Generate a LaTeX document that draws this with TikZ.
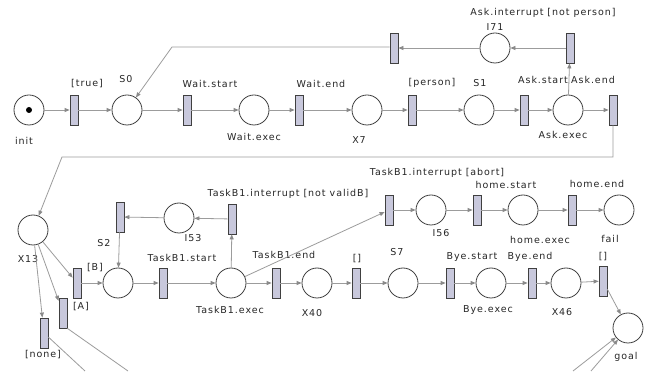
\documentclass[tikz,border=0pt]{standalone}
\usepackage{fontspec}
\newfontfamily\netfont{DejaVu Sans}[LetterSpace=10]
\usetikzlibrary{arrows.meta}
\definecolor{arcgray}{HTML}{9C9C9C}
\definecolor{tipgray}{HTML}{8A8A8A}
\definecolor{rimgray}{HTML}{404040}
\definecolor{transfill}{HTML}{C8C8DC}
\begin{document}
\begin{tikzpicture}[x=1pt,y=-1pt,
  place/.style={circle,draw=rimgray,fill=white,line width=0.8pt,minimum size=30pt,inner sep=0pt},
  trans/.style={rectangle,draw=rimgray,fill=transfill,line width=0.8pt,minimum width=8pt,minimum height=30pt,inner sep=0pt},
  lbl/.style={text=black!85,font=\netfont\fontsize{9.5}{11}\selectfont,inner sep=0pt},
  arc/.style={draw=arcgray,line width=0.8pt,-{Triangle[length=5pt,width=4pt,color=tipgray]}},
  plainarc/.style={draw=arcgray,line width=0.8pt}]
\useasboundingbox (0,0) rectangle (654,379);
\fill[white] (0,0) rectangle (654,379);

% ---------- places ----------
\node[place] (init)     at (29,110) {};
\fill[black] (init.center) circle (3);
\node[place] (S0)       at (127,110) {};
\node[place] (WaitExec) at (254,110) {};
\node[place] (X7)       at (367,110) {};
\node[place] (S1)       at (479,110) {};
\node[place] (AskExec)  at (568,110) {};
\node[place] (I71)      at (495,48) {};
\node[place] (X13)      at (33,230) {};
\node[place] (S2)       at (118,283) {};
\node[place] (I53)      at (179,218) {};
\node[place] (TBexec)   at (231,283) {};
\node[place] (X40)      at (317,283) {};
\node[place] (S7)       at (403,283) {};
\node[place] (ByeExec)  at (491,283) {};
\node[place] (X46)      at (566,283) {};
\node[place] (goal)     at (628,328) {};
\node[place] (I56)      at (431,210) {};
\node[place] (homeExec) at (523,210) {};
\node[place] (fail)     at (619,210) {};

% ---------- transitions ----------
\node[trans] (Ttrue)     at (74,110) {};
\node[trans] (WaitStart) at (187,110) {};
\node[trans] (WaitEnd)   at (299,110) {};
\node[trans] (Tperson)   at (412,110) {};
\node[trans] (AskStart)  at (524,110) {};
\node[trans] (AskEnd)    at (613,110) {};
\node[trans] (AskInt)    at (570,48) {};
\node[trans] (T71)       at (394,48) {};
\node[trans] (TB)        at (77,283) {};
\node[trans] (TA)        at (63,313) {};
\node[trans] (Tnone)     at (44,333) {};
\node[trans] (T53)       at (120,217) {};
\node[trans] (TBint)     at (232,219) {};
\node[trans] (TBstart)   at (163,283) {};
\node[trans] (TBend)     at (276,283) {};
\node[trans] (Tx40)      at (356,283) {};
\node[trans] (ByeStart)  at (450,283) {};
\node[trans] (ByeEnd)    at (532,283) {};
\node[trans] (Tx46)      at (603,281) {};
\node[trans] (Tabort)    at (389,210) {};
\node[trans] (homeStart) at (477,210) {};
\node[trans] (homeEnd)   at (572,210) {};

% ---------- labels ----------
\node[lbl] (Linit)    at (24,141)  {init};
\node[lbl] (Ltrue)    at (87,84)   {[true]};
\node[lbl] (LS0)      at (126,79)  {S0};
\node[lbl] (LWstart)  at (210,84)  {Wait.start};
\node[lbl] (LWexec)   at (254,137) {Wait.exec};
\node[lbl] (LWend)    at (321,84)  {Wait.end};
\node[lbl] (LX7)      at (359,140) {X7};
\node[lbl] (Lperson)  at (432,83)  {[person]};
\node[lbl] (LS1)      at (480,83)  {S1};
\node[lbl] (LAstart)  at (543,80)  {Ask.start};
\node[lbl] (LAend)    at (593,80)  {Ask.end};
\node[lbl] (LAexec)   at (563,135) {Ask.exec};
\node[lbl] (LAint)    at (543,13)  {Ask.interrupt [not person]};
\node[lbl] (LI71)     at (495,27)  {I71};
\node[lbl] (LX13)     at (28,259)  {X13};
\node[lbl] (LB)       at (95,268)  {[B]};
\node[lbl] (LA)       at (81,307)  {[A]};
\node[lbl] (Lnone)    at (43,355)  {[none]};
\node[lbl] (LS2)      at (104,243) {S2};
\node[lbl] (LI53)     at (193,238) {I53};
\node[lbl] (LTBint)   at (288,194) {TaskB1.interrupt [not validB]};
\node[lbl] (LTBstart) at (182,258) {TaskB1.start};
\node[lbl] (LTBexec)  at (230,310) {TaskB1.exec};
\node[lbl] (LTBend)   at (284,255) {TaskB1.end};
\node[lbl] (LX40)     at (312,313) {X40};
\node[lbl] (Lx40)     at (357,259) {[]};
\node[lbl] (LS7)      at (397,252) {S7};
\node[lbl] (LBstart)  at (472,257) {Bye.start};
\node[lbl] (LBexec)   at (488,310) {Bye.exec};
\node[lbl] (LBend)    at (530,257) {Bye.end};
\node[lbl] (LX46)     at (562,312) {X46};
\node[lbl] (Lx46)     at (603,257) {[]};
\node[lbl] (Lgoal)    at (626,357) {goal};
\node[lbl] (Labort)   at (437,173) {TaskB1.interrupt [abort]};
\node[lbl] (LI56)     at (441,233) {I56};
\node[lbl] (Lhstart)  at (506,185) {home.start};
\node[lbl] (Lhexec)   at (540,240) {home.exec};
\node[lbl] (Lhend)    at (597,184) {home.end};
\node[lbl] (Lfail)    at (610,239) {fail};

% ---------- bend points and free ends ----------
\coordinate (bendS0)  at (172,47);
\coordinate (bendX13) at (62,157);
\coordinate (outA)    at (128,371);
\coordinate (outNone) at (85,371);
\coordinate (inGoalA) at (573,371);
\coordinate (inGoalB) at (591,371);

% ---------- arcs: main row ----------
\draw[arc] (init) -- (Ttrue);
\draw[arc] (Ttrue) -- (S0);
\draw[arc] (S0) -- (WaitStart);
\draw[arc] (WaitStart) -- (WaitExec);
\draw[arc] (WaitExec) -- (WaitEnd);
\draw[arc] (WaitEnd) -- (X7);
\draw[arc] (X7) -- (Tperson);
\draw[arc] (Tperson) -- (S1);
\draw[arc] (S1) -- (AskStart);
\draw[arc] (AskStart) -- (AskExec);
\draw[arc] (AskExec) -- (AskEnd);
\draw[arc] (AskExec) -- (AskInt);
\draw[arc] (AskInt) -- (I71);
\draw[arc] (I71) -- (T71);
\draw[arc] (T71.west |- bendS0) -- (bendS0) -- (S0);
\draw[arc] (AskEnd.south) |- (bendX13) -- (X13);

% ---------- arcs: second row ----------
\draw[arc] (X13) -- (TB);
\draw[arc] (X13) -- (TA);
\draw[arc] (X13) -- (Tnone);
\draw[arc] (TB) -- (S2);
\draw[arc] (S2) -- (TBstart);
\draw[arc] (TBstart) -- (TBexec);
\draw[arc] (TBexec) -- (TBend);
\draw[arc] (TBend) -- (X40);
\draw[arc] (X40) -- (Tx40);
\draw[arc] (Tx40) -- (S7);
\draw[arc] (S7) -- (ByeStart);
\draw[arc] (ByeStart) -- (ByeExec);
\draw[arc] (ByeExec) -- (ByeEnd);
\draw[arc] (ByeEnd) -- (X46);
\draw[arc] (X46) -- (Tx46);
\draw[arc] (Tx46) -- (goal);
\draw[arc] (TBexec) -- (TBint);
\draw[arc] (TBint) -- (I53);
\draw[arc] (I53) -- (T53);
\draw[arc] (T53) -- (S2);
\draw[arc] (TBexec) -- (Tabort);
\draw[arc] (Tabort) -- (I56);
\draw[arc] (I56) -- (homeStart);
\draw[arc] (homeStart) -- (homeExec);
\draw[arc] (homeExec) -- (homeEnd);
\draw[arc] (homeEnd) -- (fail);

% ---------- arcs leaving / entering across the lower edge ----------
\draw[plainarc] (TA.south east) -- (outA);
\draw[plainarc] (Tnone) -- (outNone);
\draw[arc] (inGoalA) -- (goal);
\draw[arc] (inGoalB) -- (goal);
\end{tikzpicture}
\end{document}
